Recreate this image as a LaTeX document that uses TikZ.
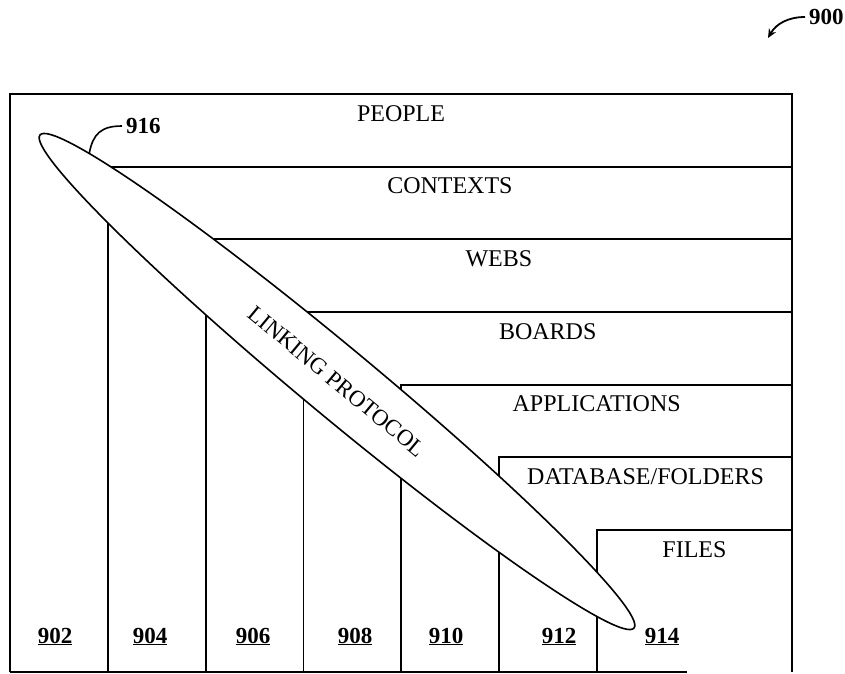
\documentclass[tikz,border=0pt]{standalone}
\usepackage{fontspec}
\setmainfont{Liberation Serif}
\usetikzlibrary{arrows.meta,shapes.geometric}

\begin{document}
\begin{tikzpicture}[
    x=1pt, y=-1pt,
    line width=1.8pt,
    band/.style={anchor=base, font=\fontsize{24}{28}\selectfont},
    refnum/.style={anchor=base, font=\bfseries\fontsize{23}{27}\selectfont},
    link/.style={
      draw,
      fill=white,
      ellipse,
      line width=1.6pt,
      minimum width=772pt,
      minimum height=70pt,
      inner sep=0pt,
      rotate=-39.7,
      font=\fontsize{23}{27}\selectfont,
    },
    >={Stealth[length=9pt,width=8pt]},
  ]
  \useasboundingbox (0,0) rectangle (845,673);
  % frame
  \draw (10,672) -- (10,94) -- (792,94) -- (792,672);
  \draw (10,672) -- (687,672);
  % steps
  \foreach \i in {1,...,6} {
    \draw ({10+97.83*\i},672) |- (792,{94+72.67*\i});
  }
  % layer names
  \foreach \i/\txt in {0/PEOPLE,1/CONTEXTS,2/WEBS,3/BOARDS,4/APPLICATIONS,5/{DATABASE/FOLDERS},6/FILES} {
    \node[band] (band\i) at ({(10+97.83*\i+792)/2},{94+72.67*\i+27}) {\txt};
  }
  % reference numbers
  \foreach \n/\x in {902/55,904/150,906/253,908/355,910/446,912/559,914/662} {
    \node[refnum] (n\n) at (\x,643) {\underline{\n}};
  }
  % linking protocol
  \node[link] (protocol) at (337,381.5) {LINKING PROTOCOL};
  \node[refnum, anchor=west] (r916) at (122,126) {916};
  \draw[line width=1.6pt] (protocol.177.4) .. controls (93,134) and (101,126) .. (r916.west);
  % figure number
  \node[refnum, anchor=west] (r900) at (805,17) {900};
  \coordinate (fig) at (768,38);
  \draw[line width=1.8pt,->] (r900.west) .. controls (788,17) and (776,24) .. (fig);
\end{tikzpicture}
\end{document}
